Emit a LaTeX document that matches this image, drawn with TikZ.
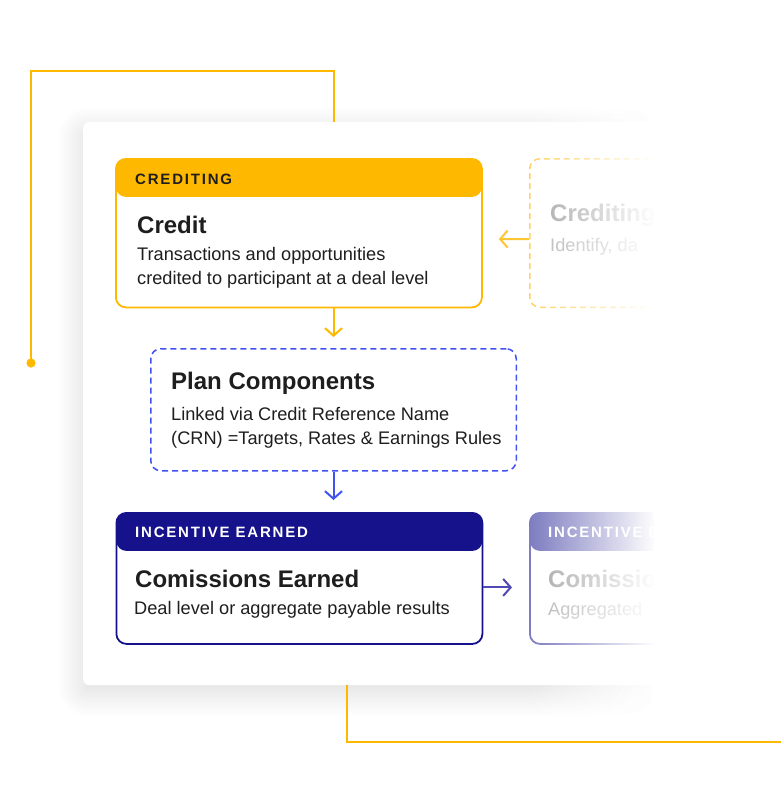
\documentclass[tikz,border=0pt]{standalone}
\usepackage{fontspec}
\setmainfont{Liberation Sans}
\usetikzlibrary{arrows.meta,shadows.blur,fadings}
\definecolor{ylw}{RGB}{255,184,0}
\definecolor{navy}{RGB}{21,18,140}
\definecolor{dblue}{RGB}{64,82,240}
\definecolor{txt}{RGB}{30,30,30}
\definecolor{arrp}{RGB}{80,72,180}
\definecolor{fadetxt}{RGB}{168,168,168}
\tikzfading[name=fadeR, left color=transparent!100, right color=transparent!0]
\begin{document}
\begin{tikzpicture}[x=1pt,y=-1pt,
  card/.style={fill=white, rounded corners=6pt, anchor=north west, inner sep=0,
    blur shadow={shadow blur radius=24pt, shadow blur steps=30, shadow xshift=-2pt, shadow yshift=-8pt, shadow opacity=14}},
  flowbox/.style={draw=#1, rounded corners=10pt, line width=1.8pt, fill=white, anchor=north west, inner sep=0},
  hdr/.style={path picture={\fill[#1] (path picture bounding box.north west) rectangle ([yshift=-38pt]path picture bounding box.north east);}},
  hdrtxt/.style={anchor=base west, inner sep=0, font=\fontsize{15}{18}\selectfont\bfseries\addfontfeature{LetterSpace=12}},
  ttl/.style={anchor=base west, inner sep=0, text=txt, font=\fontsize{24}{28}\selectfont\bfseries},
  bdy/.style={anchor=base west, inner sep=0, text=txt, font=\fontsize{18.2}{22}\selectfont},
  yline/.style={draw=ylw, line width=1.9pt},
  conn/.style={draw=#1, line width=2pt, -{Straight Barb[length=7.5pt,width=17pt]}}
]
\useasboundingbox (0,0) rectangle (781,807);

% card
\node[card, minimum width=730pt, minimum height=563pt] (card) at (83,122) {};

% yellow frame lines
\coordinate (dot) at (31,363);
\coordinate (tr) at (334,71);
\coordinate (bl) at (347,742);
\coordinate (br) at (781,742);
\fill[ylw] (dot) circle (4.6pt);
\draw[yline] (dot) |- (tr) -- (tr |- card.north);
\draw[yline] (bl |- card.south) -- (bl) -- (br);

% Credit box
\node[flowbox=ylw, hdr=ylw, minimum width=366pt, minimum height=148.5pt] (credit) at (115,158) {};
\node[hdrtxt, text=txt] (c1) at (135,184) {CREDITING};
\node[ttl] (c2) at (137,233) {Credit};
\node[bdy] (c3) at (137,260) {Transactions and opportunities};
\node[bdy] (c4) at (137,284) {credited to participant at a deal level};

% Plan components
\node[flowbox=dblue, line width=1.5pt, dash pattern=on 6pt off 4pt, minimum width=365.5pt, minimum height=122pt] (plan) at (150,348) {};
\node[ttl] (p1) at (171,389) {Plan Components};
\node[bdy] (p2) at (171,420) {Linked via Credit Reference Name};
\node[bdy] (p3) at (171,444) {(CRN) =Targets, Rates \& Earnings Rules};

% Incentive earned
\node[flowbox=navy, hdr=navy, minimum width=366pt, minimum height=131pt] (inc) at (115.5,512) {};
\node[hdrtxt, text=white] (i1) at (135,537.5) {INCENTIVE EARNED};
\node[ttl] (i2) at (135,587) {Comissions Earned};
\node[bdy] (i3) at (134,614) {Deal level or aggregate payable results};

% faded right boxes
\node[flowbox=ylw!60, line width=1.5pt, dash pattern=on 6pt off 4pt, minimum width=300pt, minimum height=148.5pt] (crd2) at (529,158) {};
\node[ttl, text=fadetxt] (d1) at (550,221) {Crediting};
\node[bdy, text=fadetxt!85] (d2) at (550,251.5) {Identify, da};

\node[flowbox=navy!55, hdr=navy!55, minimum width=300pt, minimum height=131pt] (inc2) at (529,512) {};
\node[hdrtxt, text=white] (e1) at (548,537.5) {INCENTIVE EARNED};
\node[ttl, text=fadetxt] (e2) at (548,587) {Comissions Earned};
\node[bdy, text=fadetxt!85] (e3) at (548,615) {Aggregated};

% connectors
\draw[conn=ylw, shorten >=11pt] (plan.north |- credit.south) -- (plan.north);
\draw[conn=dblue, shorten >=12pt] (plan.south) -- (plan.south |- inc.north);
\draw[conn=arrp, shorten >=17pt] ([yshift=-9pt]inc.east) -- ([yshift=-9pt]inc2.west);
\draw[conn=ylw!80, shorten >=16pt] ([yshift=-6pt]crd2.west) -- ([yshift=-6pt]credit.east);

% fade overlay on the right
\fill[white, path fading=fadeR] (530,80) rectangle (655,735);
\fill[white] (654,80) rectangle (781,735);
\end{tikzpicture}
\end{document}
